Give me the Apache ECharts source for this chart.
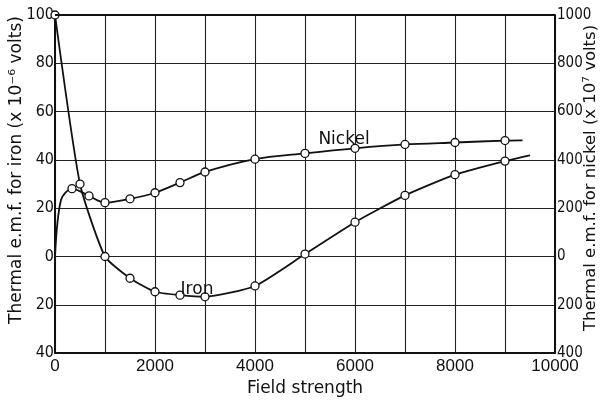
<!DOCTYPE html>
<html>
<head>
<meta charset="utf-8">
<script src="https://cdn.jsdelivr.net/npm/echarts@6/dist/echarts.min.js"></script>
<style>
html,body{margin:0;padding:0;background:#fff;}
#c{width:601px;height:402px;}
</style>
</head>
<body>
<div id="c"></div>
<script>
// Field strength (x) and thermal e.m.f. readings
const ironX = [0, 500, 1000, 1500, 2000, 2500, 3000, 4000, 5000, 6000, 7000, 8000, 9000, 9500];
const ironY = [100, 30, 0, -9, -14.6, -16, -16.7, -12.2, 1, 14.2, 25.3, 33.9, 39.5, 41.9];
const ironMarked = [1, 1, 1, 1, 1, 1, 1, 1, 1, 1, 1, 1, 1, 0];

const nickelX = [0, 120, 340, 680, 1000, 1500, 2000, 2500, 3000, 4000, 5000, 6000, 7000, 8000, 9000, 9350];
const nickelY = [0, 234, 281, 251, 223, 239, 264, 306, 350, 403, 427, 448, 464, 472, 480, 481];
const nickelMarked = [0, 0, 1, 1, 1, 1, 1, 1, 1, 1, 1, 1, 1, 1, 1, 0];

const xTicks = [0, 2000, 4000, 6000, 8000, 10000];
const leftTitle = 'Thermal e.m.f. for iron (x 10\u207B\u2076 volts)';
const rightTitle = 'Thermal e.m.f. for nickel (x 10\u2077 volts)';
const xTitle = 'Field strength';
const ironLabel = ['Iron', 2840, -13.5];
const nickelLabel = ['Nickel', 5780, 485];

function buildData(xs, ys, marked) {
  return xs.map((x, i) => ({
    value: [x, ys[i]],
    symbol: marked[i] ? 'circle' : 'none'
  }));
}

const NARROW = "'Liberation Sans Narrow', 'DejaVu Sans Condensed', sans-serif";
const chart = echarts.init(document.getElementById('c'), null, {renderer: 'canvas'});
const lineStyle = {color: '#111', width: 1.8};
const markerStyle = {color: '#fff', borderColor: '#111', borderWidth: 1.3};

chart.setOption({
  animation: false,
  backgroundColor: '#fff',
  grid: {left: 55, right: 46, top: 15, bottom: 40, show: false},
  xAxis: {
    type: 'value', min: 0, max: 10000, interval: 1000,
    name: xTitle, nameLocation: 'middle', nameGap: 23,
    nameTextStyle: {fontFamily: 'DejaVu Sans', fontSize: 17, color: '#111'},
    axisLine: {show: true, onZero: false, lineStyle: {color: '#111', width: 2}},
    axisTick: {show: false},
    axisLabel: {
      margin: 5, color: '#111', fontFamily: 'Liberation Sans', fontSize: 17,
      formatter: v => (xTicks.indexOf(v) >= 0 ? String(v) : '')
    },
    splitLine: {show: true, lineStyle: {color: '#222', width: 1.1}}
  },
  yAxis: [{
    type: 'value', min: -40, max: 100, interval: 20, position: 'left',
    axisLine: {show: true, onZero: false, lineStyle: {color: '#111', width: 2}},
    axisTick: {show: false},
    axisLabel: {margin: 1, color: '#111', fontFamily: NARROW, fontSize: 16,
      formatter: v => String(Math.abs(v))},
    splitLine: {show: true, lineStyle: {color: '#222', width: 1.1}}
  }, {
    type: 'value', min: -400, max: 1000, interval: 200, position: 'right',
    axisLine: {show: true, onZero: false, lineStyle: {color: '#111', width: 2}},
    axisTick: {show: false},
    axisLabel: {margin: 2, color: '#111', fontFamily: NARROW, fontSize: 15,
      formatter: v => String(Math.abs(v))},
    splitLine: {show: false}
  }],
  graphic: [
    {type: 'line', shape: {x1: 55, y1: 15, x2: 555, y2: 15}, style: {stroke: '#111', lineWidth: 2}, z: 10},
    {type: 'text', x: 17, y: 170, rotation: Math.PI / 2,
      style: {text: leftTitle, font: '17px "DejaVu Sans"', fill: '#111', textAlign: 'center', textVerticalAlign: 'middle'}},
    {type: 'text', x: 591, y: 178, rotation: Math.PI / 2,
      style: {text: rightTitle, font: '16.5px "DejaVu Sans"', fill: '#111', textAlign: 'center', textVerticalAlign: 'middle'}}
  ],
  series: [{
    name: 'Iron', type: 'line', yAxisIndex: 0,
    data: buildData(ironX, ironY, ironMarked),
    smooth: 0.18, symbolSize: 8,
    lineStyle: lineStyle, itemStyle: markerStyle,
    markPoint: {
      symbol: 'circle', symbolSize: 1, itemStyle: {color: 'rgba(0,0,0,0)'},
      label: {show: true, position: 'inside', formatter: ironLabel[0], color: '#111', fontFamily: 'DejaVu Sans', fontSize: 17},
      data: [{coord: [ironLabel[1], ironLabel[2]]}]
    }
  }, {
    name: 'Nickel', type: 'line', yAxisIndex: 1,
    data: buildData(nickelX, nickelY, nickelMarked),
    smooth: 0.3, symbolSize: 8,
    lineStyle: lineStyle, itemStyle: markerStyle,
    markPoint: {
      symbol: 'circle', symbolSize: 1, itemStyle: {color: 'rgba(0,0,0,0)'},
      label: {show: true, position: 'inside', formatter: nickelLabel[0], color: '#111', fontFamily: 'DejaVu Sans', fontSize: 17},
      data: [{coord: [nickelLabel[1], nickelLabel[2]]}]
    }
  }]
});
</script>
</body>
</html>
